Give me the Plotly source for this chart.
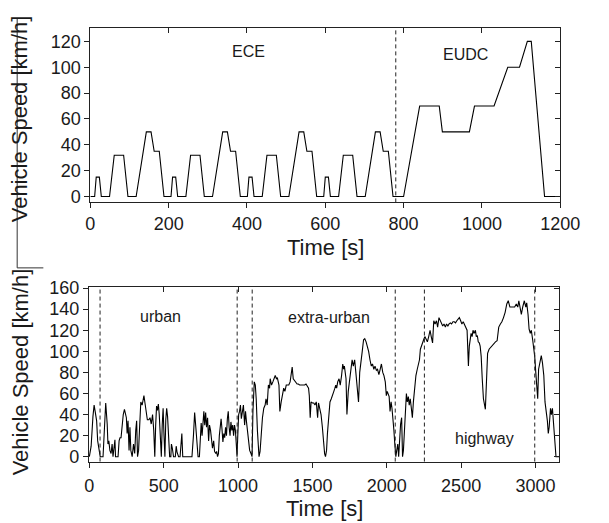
import plotly.graph_objects as go

W, H = 609, 523

# ---------------- data: NEDC (ECE x4 + EUDC) ----------------
nedc_time = [0, 11, 15, 23, 28, 49, 61, 85, 96, 117, 143, 155, 163, 176, 188,
             195, 206, 210, 218, 223, 244, 256, 280, 291, 312, 338, 350, 358, 371, 383,
             390, 401, 405, 413, 418, 439, 451, 475, 486, 507, 533, 545, 553, 566, 578,
             585, 596, 600, 608, 613, 634, 646, 670, 681, 702, 728, 740, 748, 761, 773,
             780, 800, 841, 891, 899, 968, 981, 1031, 1066, 1096, 1116, 1126, 1160, 1200]
nedc_speed = [0, 0, 15, 15, 0, 0, 32, 32, 0, 0, 50, 50, 35, 35, 0,
              0, 0, 15, 15, 0, 0, 32, 32, 0, 0, 50, 50, 35, 35, 0,
              0, 0, 15, 15, 0, 0, 32, 32, 0, 0, 50, 50, 35, 35, 0,
              0, 0, 15, 15, 0, 0, 32, 32, 0, 0, 50, 50, 35, 35, 0,
              0, 0, 70, 70, 50, 50, 70, 70, 100, 100, 120, 120, 0, 0]
nedc_phase_bounds = [780]
nedc_labels = ["ECE", "EUDC"]
nedc_label_x = [404, 958]
nedc_label_y = [112, 110]

# ---------------- data: real-world cycle ----------------
cycle_time = [
    0, 12, 24, 32, 39, 49, 56, 64, 73, 92, 99, 110, 120, 125, 131, 138, 146, 153, 159, 165,
    172, 176, 193, 200, 206, 213, 221, 228, 236, 243, 249, 254, 260, 267, 273, 279, 288, 297, 305, 312,
    318, 324, 331, 337, 342, 346, 355, 361, 367, 375, 383, 390, 400, 408, 416, 425, 433, 440, 446, 452,
    458, 464, 470, 476, 484, 490, 496, 502, 508, 514, 520, 526, 532, 540, 548, 552, 558, 566, 578, 584,
    590, 600, 610, 616, 622, 628, 640, 660, 690, 700, 708, 716, 724, 731, 740, 746, 752, 758, 764, 770,
    776, 782, 788, 795, 802, 808, 815, 822, 828, 836, 842, 850, 856, 862, 868, 874, 880, 886, 892, 898,
    904, 910, 916, 922, 928, 934, 940, 946, 952, 958, 964, 970, 976, 982, 988, 993, 998, 1004, 1010, 1016,
    1022, 1028, 1036, 1044, 1050, 1056, 1062, 1070, 1078, 1087, 1094, 1100, 1106, 1109, 1116, 1122, 1130, 1135, 1141, 1148,
    1155, 1164, 1173, 1182, 1188, 1196, 1204, 1212, 1216, 1225, 1234, 1242, 1250, 1258, 1264, 1275, 1281, 1290, 1298, 1307,
    1315, 1324, 1332, 1341, 1350, 1358, 1364, 1371, 1380, 1388, 1397, 1405, 1414, 1423, 1431, 1440, 1448, 1457, 1466, 1474,
    1479, 1485, 1491, 1500, 1509, 1517, 1526, 1535, 1541, 1550, 1558, 1567, 1575, 1582, 1588, 1595, 1601, 1610, 1618, 1627,
    1636, 1644, 1651, 1657, 1663, 1670, 1679, 1687, 1696, 1704, 1710, 1715, 1726, 1732, 1741, 1749, 1758, 1767, 1775, 1784,
    1792, 1801, 1810, 1818, 1827, 1835, 1844, 1852, 1861, 1870, 1878, 1887, 1896, 1904, 1913, 1921, 1930, 1938, 1947, 1956,
    1964, 1973, 1981, 1990, 1997, 2003, 2009, 2016, 2022, 2029, 2035, 2042, 2048, 2054, 2061, 2067, 2074, 2080, 2087, 2093,
    2100, 2106, 2112, 2119, 2125, 2132, 2138, 2145, 2151, 2158, 2166, 2172, 2179, 2187, 2196, 2205, 2213, 2220, 2226, 2235,
    2241, 2248, 2256, 2265, 2273, 2282, 2291, 2299, 2308, 2316, 2325, 2334, 2342, 2351, 2359, 2368, 2376, 2385, 2394, 2402,
    2411, 2419, 2428, 2436, 2445, 2454, 2462, 2471, 2480, 2488, 2497, 2505, 2514, 2523, 2531, 2540, 2544, 2549, 2555, 2561,
    2567, 2574, 2580, 2586, 2596, 2602, 2609, 2615, 2622, 2628, 2635, 2642, 2650, 2663, 2669, 2678, 2688, 2699, 2710, 2720,
    2731, 2742, 2753, 2764, 2774, 2785, 2796, 2807, 2817, 2828, 2839, 2850, 2860, 2871, 2881, 2888, 2897, 2905, 2914, 2925,
    2935, 2941, 2950, 2957, 2965, 2972, 2981, 2989, 2995, 3002, 3008, 3015, 3021, 3030, 3039, 3047, 3056, 3064, 3073, 3080,
    3086, 3092, 3101, 3107, 3114, 3121, 3127, 3133, 3138, 3160]
cycle_speed = [
    0, 10, 38, 49, 43, 34, 15, 6, 0, 0, 25, 51, 31, 12, 15, 6, 3, 12, 0, 6,
    16, 0, 0, 15, 18, 18, 34, 40, 45, 40, 37, 22, 34, 6, 28, 6, 0, 12, 3, 25,
    34, 0, 6, 25, 37, 52, 49, 55, 58, 50, 43, 35, 35, 37, 31, 40, 25, 0, 30, 48,
    44, 50, 40, 20, 0, 30, 46, 20, 0, 35, 46, 38, 20, 0, 0, 12, 8, 0, 0, 10,
    4, 0, 0, 10, 22, 0, 0, 0, 0, 20, 42, 28, 8, 0, 0, 18, 32, 20, 35, 43,
    30, 42, 28, 37, 15, 30, 25, 12, 8, 15, 5, 3, 5, 0, 3, 20, 30, 36, 26, 14,
    22, 18, 28, 20, 36, 43, 28, 20, 33, 25, 30, 20, 30, 25, 12, 0, 20, 40, 43, 49,
    36, 42, 49, 30, 43, 34, 25, 14, 6, 3, 0, 43, 68, 71, 68, 55, 25, 8, 0, 5,
    25, 37, 46, 49, 55, 49, 68, 65, 74, 68, 71, 74, 77, 74, 75, 68, 43, 52, 58, 65,
    62, 68, 68, 68, 71, 83, 85, 74, 72, 71, 69, 69, 68, 68, 68, 68, 68, 69, 66, 65,
    58, 37, 52, 51, 51, 49, 52, 37, 51, 46, 40, 28, 12, 3, 0, 6, 22, 43, 52, 55,
    58, 62, 65, 68, 65, 71, 74, 68, 77, 88, 83, 86, 74, 40, 62, 71, 86, 92, 86, 92,
    80, 68, 52, 80, 95, 100, 111, 112, 109, 105, 100, 92, 86, 88, 83, 86, 82, 83, 78, 83,
    88, 80, 77, 71, 58, 62, 60, 57, 43, 52, 46, 37, 25, 12, 0, 6, 12, 0, 18, 31,
    37, 0, 6, 31, 52, 60, 52, 57, 49, 55, 45, 37, 52, 68, 77, 83, 89, 92, 102, 105,
    108, 111, 114, 112, 109, 114, 120, 114, 108, 129, 126, 129, 123, 132, 129, 126, 124, 126, 123, 126,
    124, 126, 127, 126, 128, 128, 127, 129, 131, 132, 129, 126, 128, 125, 123, 120, 105, 86, 105, 111,
    117, 114, 120, 117, 120, 114, 115, 109, 108, 105, 95, 74, 55, 45, 75, 98, 102, 104, 106, 107,
    109, 110, 123, 126, 128, 132, 137, 145, 148, 142, 142, 142, 142, 145, 142, 148, 142, 135, 142, 148,
    142, 146, 135, 121, 117, 120, 111, 102, 95, 80, 71, 55, 83, 89, 96, 89, 77, 52, 43, 34,
    22, 28, 46, 40, 46, 32, 22, 12, 0, 0]
cycle_phase_bounds = [72, 994, 1095, 2057, 2253, 2995]
cycle_labels = ["urban", "extra-urban", "highway"]
cycle_label_x = [477, 1611, 2656]
cycle_label_y = [133, 132, 17]

# ---------------- geometry (pixels -> paper) ----------------
def px(x):
    return x / W

def py(y):
    return 1 - y / H

top_x = [px(89), px(579)]
top_y = [py(198.7), py(20)]
bot_x = [px(87.5), px(578)]
bot_y = [py(465), py(285.7)]

FONT = "Liberation Sans, Arial, sans-serif"
TXT = "#1a1a1a"

fig = go.Figure()
fig.add_trace(go.Scatter(x=nedc_time, y=nedc_speed, mode="lines",
                         line=dict(color="black", width=1.1),
                         xaxis="x", yaxis="y", showlegend=False, hoverinfo="skip"))
fig.add_trace(go.Scatter(x=cycle_time, y=cycle_speed, mode="lines",
                         line=dict(color="black", width=1.1),
                         xaxis="x2", yaxis="y2", showlegend=False, hoverinfo="skip"))
# helper traces so the mirrored (inside) tick axes are drawn
fig.add_trace(go.Scatter(x=[0], y=[0], mode="markers", marker=dict(opacity=0),
                         xaxis="x3", yaxis="y3", showlegend=False, hoverinfo="skip"))
fig.add_trace(go.Scatter(x=[0], y=[0], mode="markers", marker=dict(opacity=0),
                         xaxis="x4", yaxis="y4", showlegend=False, hoverinfo="skip"))

common = dict(showgrid=False, zeroline=False, showline=True, linecolor="#222",
              linewidth=1, tickcolor="#222", tickwidth=1, ticklen=5,
              tickfont=dict(family=FONT, size=18, color=TXT))
inner = dict(ticks="inside", showticklabels=False, showgrid=False, zeroline=False,
             showline=False, tickcolor="#222", ticklen=5)

top_xr = [0, 1200]
top_yr = [-4.5, 130]
bot_xr = [-3, 3160]
bot_yr = [-4.6, 161]

fig.update_layout(
    width=W, height=H, autosize=False,
    margin=dict(l=0, r=0, t=0, b=0),
    paper_bgcolor="white", plot_bgcolor="white",
    xaxis=dict(domain=top_x, range=top_xr, anchor="y", tick0=0, dtick=200,
               ticks="outside", mirror=True, ticklabelstandoff=0, **common),
    yaxis=dict(domain=top_y, range=top_yr, anchor="x", tick0=0, dtick=20,
               ticks="outside", mirror=True, **common),
    xaxis3=dict(overlaying="x", side="top", anchor="y3", range=top_xr, tick0=0, dtick=200, **inner),
    yaxis3=dict(overlaying="y", side="right", anchor="x3", range=top_yr, tick0=0, dtick=20, **inner),
    xaxis2=dict(domain=bot_x, range=bot_xr, anchor="y2", tick0=0, dtick=500,
                ticks="outside", mirror=True, ticklabelstandoff=3, **common),
    yaxis2=dict(domain=bot_y, range=bot_yr, anchor="x2", tick0=0, dtick=20,
                ticks="outside", mirror=True, **common),
    xaxis4=dict(overlaying="x2", side="top", anchor="y4", range=bot_xr, tick0=0, dtick=500, **inner),
    yaxis4=dict(overlaying="y2", side="right", anchor="x4", range=bot_yr, tick0=0, dtick=20, **inner),
)

shapes = []
for b in nedc_phase_bounds:
    shapes.append(dict(type="line", xref="x", yref="y domain", x0=b, x1=b, y0=0, y1=1,
                       line=dict(color="#222", width=1, dash="4px,3px")))
for b in cycle_phase_bounds:
    shapes.append(dict(type="line", xref="x2", yref="y2 domain", x0=b, x1=b, y0=0, y1=1,
                       line=dict(color="#222", width=1, dash="4px,3px")))
# thin frame edge at the far left of the original figure
shapes.append(dict(type="line", xref="paper", yref="paper", x0=px(12.7), x1=px(12.7),
                   y0=py(10), y1=py(266), line=dict(color="#333", width=1)))
shapes.append(dict(type="line", xref="paper", yref="paper", x0=px(12.7), x1=px(40),
                   y0=py(266), y1=py(266), line=dict(color="#333", width=1)))
fig.update_layout(shapes=shapes)

ann = []
for t, xv, yv in zip(nedc_labels, nedc_label_x, nedc_label_y):
    ann.append(dict(text=t, x=xv, y=yv, xref="x", yref="y", showarrow=False,
                    xanchor="center", yanchor="middle",
                    font=dict(family=FONT, size=16, color=TXT)))
for t, xv, yv in zip(cycle_labels, cycle_label_x, cycle_label_y):
    ann.append(dict(text=t, x=xv, y=yv, xref="x2", yref="y2", showarrow=False,
                    xanchor="center", yanchor="middle",
                    font=dict(family=FONT, size=16, color=TXT)))
# axis titles
title_font = dict(family=FONT, size=22, color=TXT)
ann.append(dict(text="Vehicle Speed [km/h]", x=px(16), y=py(113), xref="paper", yref="paper",
                xanchor="center", yanchor="middle", textangle=-90, showarrow=False,
                font=title_font))
ann.append(dict(text="Vehicle Speed [km/h]", x=px(16), y=py(373), xref="paper", yref="paper",
                xanchor="center", yanchor="middle", textangle=-90, showarrow=False,
                font=title_font))
ann.append(dict(text="Time [s]", x=px(334), y=py(245), xref="paper", yref="paper",
                xanchor="center", yanchor="middle", showarrow=False, font=title_font))
ann.append(dict(text="Time [s]", x=px(333), y=py(513), xref="paper", yref="paper",
                xanchor="center", yanchor="middle", showarrow=False, font=title_font))
fig.update_layout(annotations=ann)

fig.write_html("out.html", config={"displayModeBar": False},
               post_script="document.body.style.margin='0';document.body.style.overflow='hidden';")
